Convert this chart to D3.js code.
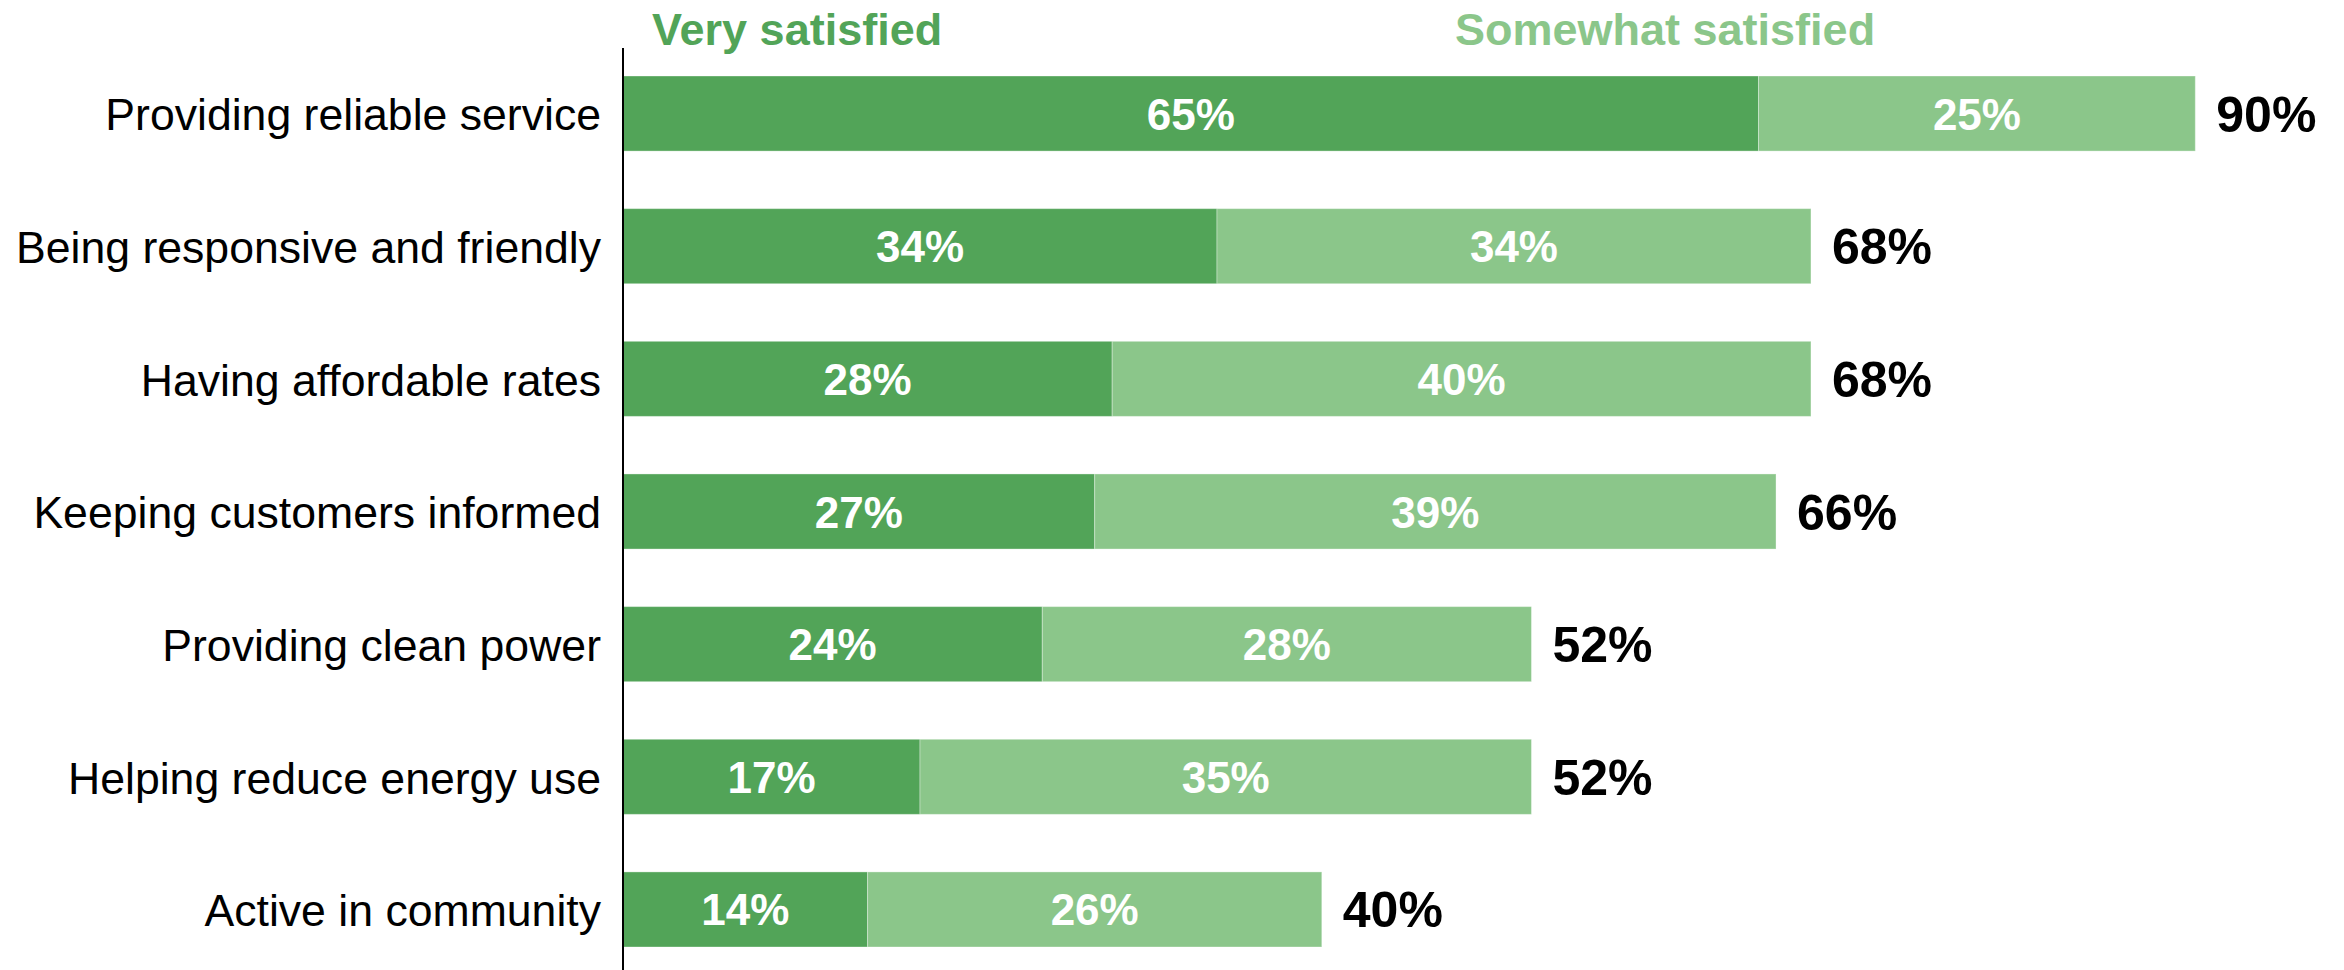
<!DOCTYPE html>
<html>
<head>
<meta charset="utf-8">
<script src="https://cdn.jsdelivr.net/npm/d3@7"></script>
<style>
  html, body { margin: 0; padding: 0; background: #fff; }
  svg { display: block; font-family: "Liberation Sans", Arial, sans-serif; }
</style>
</head>
<body>
<svg id="chart" width="2344" height="970"></svg>
<script>
// Customer satisfaction by service attribute
const categories = [
  "Providing reliable service",
  "Being responsive and friendly",
  "Having affordable rates",
  "Keeping customers informed",
  "Providing clean power",
  "Helping reduce energy use",
  "Active in community"
];
const verySatisfied     = [65, 34, 28, 27, 24, 17, 14];
const somewhatSatisfied = [25, 34, 40, 39, 28, 35, 26];
const totals            = [90, 68, 68, 66, 52, 52, 40];
const seriesNames = ["Very satisfied", "Somewhat satisfied"];
const seriesColors = ["#52a458", "#8bc68a"];

const svg = d3.select("#chart");

const x = d3.scaleLinear().domain([0, 100]).range([623, 623 + 1747]);
const y = d3.scaleBand().domain(categories).range([76, 947]).paddingInner(0.434).paddingOuter(0);

const rows = categories.map((c, i) => ({
  cat: c,
  segs: [
    { key: 0, x0: 0, x1: verySatisfied[i], v: verySatisfied[i] },
    { key: 1, x0: verySatisfied[i], x1: verySatisfied[i] + somewhatSatisfied[i], v: somewhatSatisfied[i] }
  ],
  total: totals[i]
}));

const row = svg.selectAll("g.row").data(rows).join("g").attr("class", "row");

row.selectAll("rect").data(d => d.segs.map(s => ({ ...s, cat: d.cat }))).join("rect")
  .attr("x", d => x(d.x0))
  .attr("y", d => y(d.cat))
  .attr("width", d => x(d.x1) - x(d.x0))
  .attr("height", y.bandwidth())
  .attr("fill", d => seriesColors[d.key])
  .attr("stroke", "rgba(255,255,255,0.35)")
  .attr("stroke-width", 1);

// segment values
row.selectAll("text.seg").data(d => d.segs.map(s => ({ ...s, cat: d.cat }))).join("text")
  .attr("class", "seg")
  .attr("x", d => (x(d.x0) + x(d.x1)) / 2)
  .attr("y", d => y(d.cat) + y.bandwidth() / 2 + 16)
  .attr("text-anchor", "middle")
  .attr("fill", "#fff")
  .attr("font-weight", "bold")
  .attr("font-size", 44)
  .text(d => d.v + "%");

// totals
row.append("text")
  .attr("x", d => x(d.segs[1].x1) + 21)
  .attr("y", d => y(d.cat) + y.bandwidth() / 2 + 18)
  .attr("fill", "#000")
  .attr("font-weight", "bold")
  .attr("font-size", 50)
  .text(d => d.total + "%");

// category axis
const axis = svg.append("g")
  .attr("transform", `translate(${x(0)},0)`)
  .call(d3.axisLeft(y).tickSize(0).tickPadding(22));
axis.select(".domain").remove();
axis.selectAll("text")
  .attr("font-size", 44.6)
  .attr("font-family", "\"Liberation Sans\", Arial, sans-serif")
  .attr("fill", "#000")
  .attr("dy", "0.38em");

svg.append("line")
  .attr("x1", x(0)).attr("x2", x(0))
  .attr("y1", 48).attr("y2", 970)
  .attr("stroke", "#000").attr("stroke-width", 2);

// series legend
const legendX = [652, 1455];
svg.selectAll("text.legend").data(seriesNames).join("text")
  .attr("class", "legend")
  .attr("x", (d, i) => legendX[i])
  .attr("y", 45)
  .attr("fill", (d, i) => seriesColors[i])
  .attr("font-weight", "bold")
  .attr("font-size", 45)
  .text(d => d);
</script>
</body>
</html>
